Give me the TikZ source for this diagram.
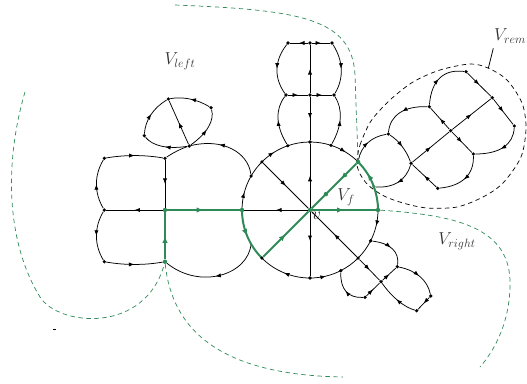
\documentclass[tikz,border=0pt]{standalone}
\usetikzlibrary{decorations.markings,arrows.meta,calc}
\pgfdeclarelayer{bg}
\pgfsetlayers{bg,main}
\definecolor{fgreen}{RGB}{46,139,87}
\tikzset{
 vdot/.style={circle,fill=black,inner sep=0pt,minimum size=3.6pt},
 gdot/.style={circle,fill=fgreen,inner sep=0pt,minimum size=4.4pt},
 ln/.style={line width=0.75pt,black},
 gln/.style={line width=2pt,fgreen},
 fwd/.style={postaction={decorate},decoration={markings,mark=at position #1 with {\arrow{Latex[length=5.5pt,width=4.2pt]}}}},
 fwd/.default=0.5,
 gfwd/.style={postaction={decorate},decoration={markings,mark=at position #1 with {\arrow{Latex[length=7pt,width=5.5pt]}}}},
 gfwd/.default=0.5,
 gdash/.style={fgreen,line width=0.7pt,dash pattern=on 4.5pt off 3.5pt},
 bdash/.style={black,line width=0.7pt,dash pattern=on 4.5pt off 3.5pt},
 lab/.style={text=black!80,font=\fontsize{17.5}{20}\selectfont,inner sep=0pt},
}
% quadratic curve from node #2 to node #4 with control point #3
\newcommand{\qdraw}[4][]{\draw[#1] (#2) .. controls ($(#2)!0.6667!(#3)$) and ($(#4)!0.6667!(#3)$) .. (#4);}
\begin{document}
\begin{tikzpicture}[x=1pt,y=-1pt]
\useasboundingbox (0,0) rectangle (527,383);
% central vertex and circle nodes
\node[gdot] (v) at (310,210) {};
\path (v) ++(0:68) node[gdot] (cE) {};
\path (v) ++(-20:68) node[gdot,minimum size=3.4pt] (c20) {};
\path (v) ++(-45:68) node[gdot] (cNE) {};
\path (v) ++(-72:68) node[vdot] (cB3) {};
\path (v) ++(-90:68) node[vdot] (cN) {};
\path (v) ++(-109:68) node[vdot] (cB1) {};
\path (v) ++(-135:68) node[vdot] (cNW) {};
\path (v) ++(-150:68) node[vdot] (cP) {};
\path (v) ++(180:68) node[gdot] (cW) {};
\path (v) ++(-210:68) coordinate (c210);
\path (v) ++(-225:68) node[vdot] (cSW) {};
\path (v) ++(-270:68) node[vdot] (cS) {};
\path (v) ++(-297:68) node[vdot] (c297) {};
\path (v) ++(-315:68) node[vdot] (cSE) {};
\path (v) ++(-333:68) node[vdot] (c333) {};
\node[gdot] (gm) at ($(v)!0.33!(cNE)$) {};
% left structure
\node[vdot] (L1) at (104.3,158.3) {};
\node[vdot] (L2) at (165,158.3) {};
\node[vdot] (L3) at (104.3,210) {};
\node[gdot] (L4) at (165,210) {};
\node[vdot] (L5) at (104.3,261.7) {};
\node[gdot] (L6) at (165,261.7) {};
% petal
\node[vdot] (Q1) at (168.3,99) {};
\node[vdot] (Q2) at (211,107.7) {};
\node[vdot] (Q3) at (144.3,135.7) {};
\node[vdot] (Q4) at (189.3,146) {};
% column
\node[vdot] (T1) at (288,43) {};
\node[vdot] (T2) at (310,43) {};
\node[vdot] (T3) at (332,43) {};
\node[vdot] (M1) at (286,95) {};
\node[vdot] (M2) at (310,95) {};
\node[vdot] (M3) at (334,95) {};
% chain
\node[vdot] (N2) at (388.3,134) {};
\node[vdot] (N3) at (411,163.3) {};
\node[vdot] (N4) at (429.3,106.7) {};
\node[vdot] (N5) at (450.7,130.7) {};
\node[vdot] (N6) at (466,71.7) {};
\node[vdot] (N7) at (492.3,97.7) {};
\node[vdot] (N8) at (514.3,126) {};
\node[vdot] (N9) at (473.3,154) {};
\node[vdot] (N10) at (437.7,188.3) {};
% lower right flower
\node[vdot] (Cc) at (397.3,266.7) {};
\node[vdot] (D) at (381,281.7) {};
\node[vdot] (F) at (365,297.3) {};
\node[vdot] (G) at (416.7,310.7) {};
\node[vdot] (H) at (430.7,296) {};
% free ends
\coordinate (gt0) at (175,5);
\coordinate (gl0) at (25,92);
\coordinate (gr1) at (480,367);
\coordinate (gb1) at (343,377);
\coordinate (remA) at (493.3,48.3);
\coordinate (remB) at (488.3,68.3);
\begin{pgfonlayer}{bg}
% dashed regions
\draw[bdash] plot[smooth cycle] coordinates {(357,162) (360,145) (371,121) (390,100) (413,82) (440,70) (470,64) (488,68) (507,80) (522,103) (526,128) (521,157) (503,183) (483,197) (457,207) (427,208) (403,203) (384,196) (368,185) (359,172)};
\draw[gdash] (gt0) .. controls (300,10) and (352,18) .. (355,75) -- (cNE);
\draw[gdash] (cE) .. controls (450,215) and (508,225) .. (510,280) .. controls (511,320) and (495,350) .. (gr1);
\draw[gdash] (gl0) .. controls (5,160) and (5,240) .. (40,297) .. controls (58,326) and (145,335) .. (L6);
\draw[gdash] (L6) .. controls (172,330) and (220,375) .. (gb1);
\draw[ln] (remA) -- (remB);
% spokes
\draw[ln,fwd] (v) -- (cN);
\draw[ln,fwd] (cNW) -- (v);
\draw[ln,fwd] (v) -- (cW);
\draw[ln,fwd=0.45] (v) -- (cS);
\draw[ln,fwd] (cSE) -- (v);
% circle arcs
\draw[ln,fwd] (cE.center) arc[start angle=0,end angle=27,radius=68];
\draw[ln] (c333.center) arc[start angle=27,end angle=45,radius=68];
\draw[ln] (cSE.center) arc[start angle=45,end angle=63,radius=68];
\draw[ln,fwd] (cS.center) arc[start angle=90,end angle=63,radius=68];
\draw[ln,fwd] (cS.center) arc[start angle=90,end angle=135,radius=68];
\draw[ln,fwd] (cW.center) arc[start angle=180,end angle=210,radius=68];
\draw[ln] (cP.center) arc[start angle=210,end angle=225,radius=68];
\draw[ln,fwd] (cNW.center) arc[start angle=225,end angle=251,radius=68];
\draw[ln] (cB1.center) arc[start angle=251,end angle=288,radius=68];
\draw[ln,fwd] (cB3.center) arc[start angle=288,end angle=315,radius=68];
% left structure
\qdraw[ln,fwd]{L1}{134.5,153}{L2}
\draw[ln,fwd] (L2) -- (L4);
\draw[ln,fwd] (L4) -- (L3);
\qdraw[ln,fwd]{L3}{89,184}{L1}
\qdraw[ln,fwd]{L3}{89,236}{L5}
\qdraw[ln,fwd]{L5}{134.5,267}{L6}
\draw[ln,fwd=0.62] (cP) .. controls (248,152) and (222,138) .. (Q4);
\qdraw[ln]{Q4}{177,150}{L2}
\draw[ln,fwd] (c210) .. controls (248,275) and (200,290) .. (L6);
% petal
\qdraw[ln,fwd]{Q2}{190,95}{Q1}
\qdraw[ln,fwd]{Q4}{216.4,126.5}{Q2}
\draw[ln,fwd] (Q4) -- (Q1);
\qdraw[ln,fwd]{Q3}{145.7,112.6}{Q1}
\qdraw[ln,fwd]{Q4}{156.6,151.1}{Q3}
% column
\draw[ln,fwd] (T2) -- (T1);
\draw[ln,fwd] (T2) -- (T3);
\qdraw[ln,fwd]{T1}{267.5,69}{M1}
\qdraw[ln,fwd]{T3}{349,70}{M3}
\draw[ln,fwd] (M2) -- (T2);
\draw[ln,fwd] (M1) -- (M2);
\draw[ln,fwd] (M2) -- (M3);
\draw[ln,fwd] (M2) -- (cN);
\qdraw[ln,fwd]{cB1}{269.6,116.2}{M1}
\qdraw[ln,fwd]{cB3}{347.5,116.4}{M3}
% chain
\qdraw[ln,fwd]{cNE}{362.8,138}{N2}
\qdraw[ln,fwd]{N2}{404,144}{N3}
\qdraw[ln,fwd]{N4}{391.2,105.6}{N2}
\draw[ln,fwd] (N5) -- (N4);
\qdraw[ln,fwd]{N4}{432.3,67.4}{N6}
\draw[ln,fwd] (N6) -- (N7);
\draw[ln,fwd] (N7) -- (N8);
\qdraw[ln,fwd]{N8}{512.8,154}{N9}
\draw[ln,fwd] (N5) -- (N9);
\qdraw[ln,fwd]{N9}{474.5,184.8}{N10}
\draw[ln,fwd] (N10) -- (N3);
\draw[ln,fwd] (N3) -- (N5);
\draw[ln,fwd] (N5) -- (N7);
\qdraw[ln,fwd]{N3}{403.5,189}{c20}
% lower right flower
\qdraw[ln,fwd]{c333}{400.5,244.5}{Cc}
\qdraw[ln,fwd]{F}{339.8,298.7}{c297}
\draw[ln,fwd] (F) -- (D);
\draw[ln,fwd] (D) -- (Cc);
\qdraw[ln,fwd]{Cc}{426,272.6}{H}
\draw[ln,fwd] (H) -- (G);
\qdraw[ln,fwd]{G}{397.7,305.2}{D}
\draw[ln,fwd] (cSE) -- (D);
% green face
\draw[gln,gfwd] (L6) -- (L4);
\draw[gln,gfwd] (L4) -- (cW);
\draw[gln,gfwd] (cW.center) arc[start angle=180,end angle=135,radius=68];
\draw[gln,gfwd] (cSW) -- (v);
\draw[gln,gfwd] (v) -- (cE);
\draw[gln] (cE.center) arc[start angle=360,end angle=340,radius=68];
\draw[gln,gfwd] (c20.center) arc[start angle=340,end angle=315,radius=68];
\draw[gln,gfwd=0.35] (cNE) -- (v);
\end{pgfonlayer}
\fill (53,328.6) rectangle (55.6,330);
% labels
\node[lab] (Vleft) at (180,61) {$V_{left}$};
\node[lab] (Vright) at (457,241) {$V_{right}$};
\node[lab] (Vrem) at (510,36) {$V_{rem}$};
\node[lab] (Vf) at (346,197.5) {$V_f$};
\node[lab] (vlab) at (316.5,216) {$v$};
\end{tikzpicture}
\end{document}
